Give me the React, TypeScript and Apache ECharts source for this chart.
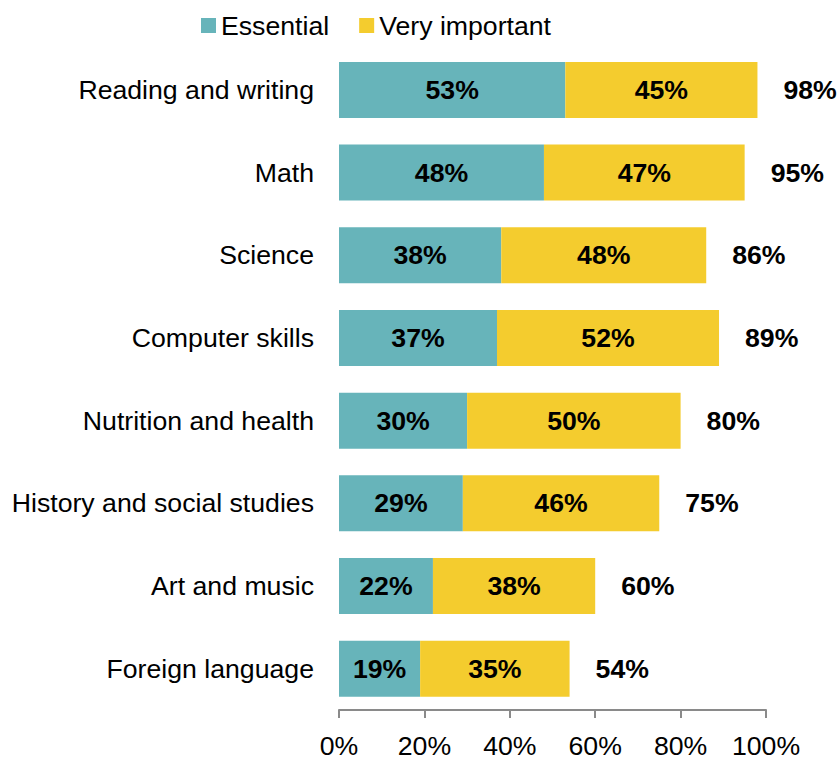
import React, { useEffect, useRef } from "react";
import * as echarts from "echarts";

const categories = [
  "Reading and writing",
  "Math",
  "Science",
  "Computer skills",
  "Nutrition and health",
  "History and social studies",
  "Art and music",
  "Foreign language",
];
const essential = [53, 48, 38, 37, 30, 29, 22, 19];
const veryImportant = [45, 47, 48, 52, 50, 46, 38, 35];
const totals = [98, 95, 86, 89, 80, 75, 60, 54];
const xTicks = [0, 20, 40, 60, 80, 100];

const FONT = "'Liberation Sans', Arial, sans-serif";
const FS = 26.67;

export default function App() {
  const ref = useRef<HTMLDivElement>(null);
  useEffect(() => {
    document.body.style.margin = "0";
    if (!ref.current) return;
    const chart = echarts.init(ref.current, undefined, { renderer: "svg" });
    const barLabel = {
      show: true,
      position: "inside",
      formatter: "{c}%",
      fontSize: FS,
      fontWeight: "bold",
      color: "#000",
      fontFamily: FONT,
    };
    chart.setOption({
      animation: false,
      textStyle: { fontFamily: FONT },
      legend: {
        data: ["Essential", "Very important"],
        left: 196,
        top: 7,
        itemWidth: 15,
        itemHeight: 15,
        itemGap: 30,
        icon: "rect",
        textStyle: { fontSize: FS, color: "#000", fontFamily: FONT },
      },
      grid: { left: 339, right: 74, top: 48.6, bottom: 51, containLabel: false },
      xAxis: {
        type: "value",
        min: xTicks[0],
        max: xTicks[xTicks.length - 1],
        interval: 20,
        axisLine: { show: true, lineStyle: { color: "#8a8a8a", width: 2 } },
        axisTick: { show: true, length: 8, lineStyle: { color: "#8a8a8a", width: 2 } },
        splitLine: { show: false },
        axisLabel: {
          formatter: "{value}%",
          fontSize: FS,
          color: "#000",
          margin: 22,
          fontFamily: FONT,
        },
      },
      yAxis: {
        type: "category",
        data: categories,
        inverse: true,
        axisLine: { show: false },
        axisTick: { show: false },
        axisLabel: { fontSize: FS, color: "#000", margin: 25, fontFamily: FONT },
      },
      series: [
        {
          name: "Essential",
          type: "bar",
          stack: "total",
          data: essential,
          barWidth: 56,
          itemStyle: { color: "#67B4BA" },
          label: barLabel,
        },
        {
          name: "Very important",
          type: "bar",
          stack: "total",
          data: veryImportant,
          barWidth: 56,
          itemStyle: { color: "#F4CC2E" },
          label: barLabel,
        },
        {
          name: "Total",
          type: "scatter",
          data: totals.map((t, i) => [t, categories[i]]),
          symbolSize: 0,
          silent: true,
          itemStyle: { opacity: 1 },
          label: {
            show: true,
            position: "right",
            distance: 26,
            opacity: 1,
            formatter: (p: any) => p.value[0] + "%",
            fontSize: FS,
            fontWeight: "bold",
            color: "#000",
            fontFamily: FONT,
          },
        },
      ],
    });
    return () => chart.dispose();
  }, []);
  return <div ref={ref} style={{ width: 840, height: 761 }} />;
}
